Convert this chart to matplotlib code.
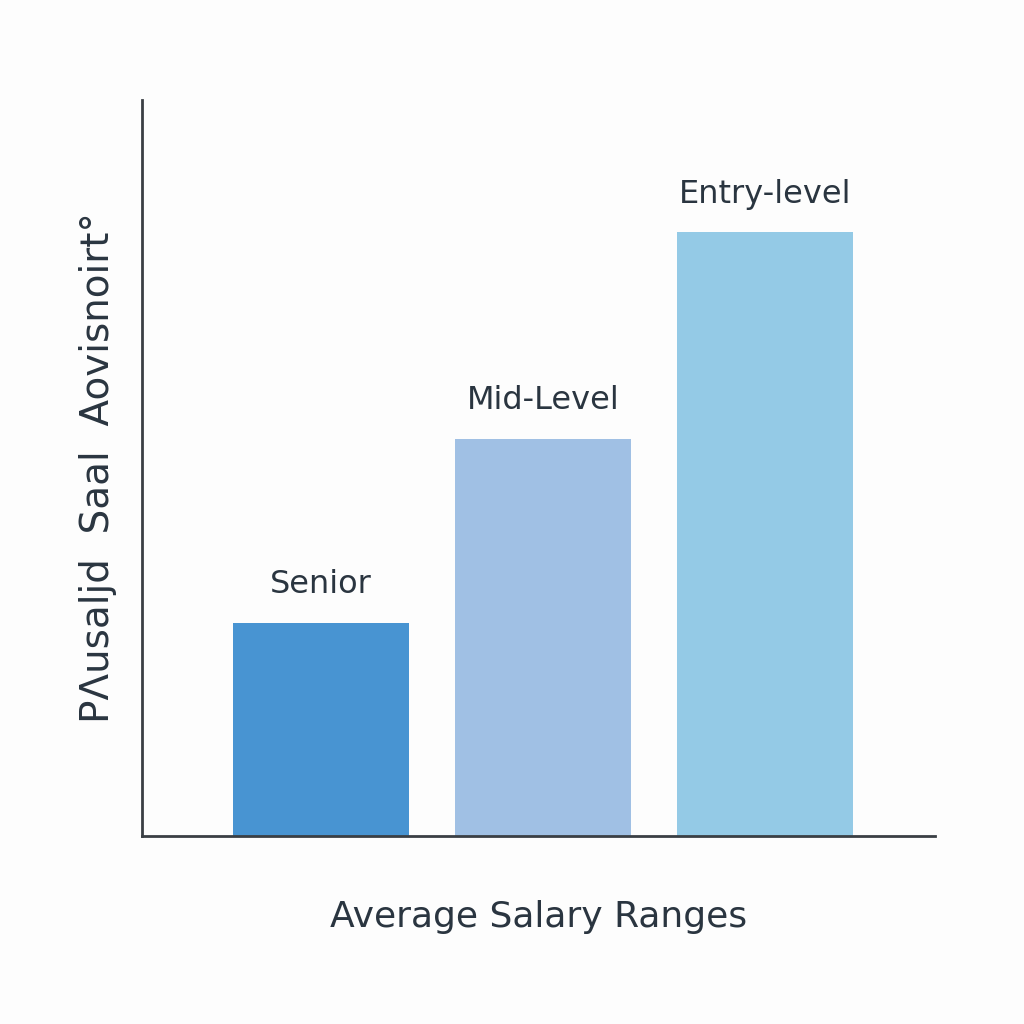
import matplotlib.pyplot as plt

# data
levels = ['Senior', 'Mid-Level', 'Entry-level']
values = [29, 54, 82]
colors = ['#4894d2', '#a0c0e4', '#94cae6']

fig = plt.figure(figsize=(10.24, 10.24), dpi=100, facecolor='#fdfdfd')
ax = fig.add_axes([142/1024, 1 - 836/1024, (935-142)/1024, (836-100)/1024])
ax.set_facecolor('#fdfdfd')

x = range(len(levels))
bars = ax.bar(x, values, width=0.79, color=colors)

# labels over bars
for xi, v, name in zip(x, values, levels):
    ax.text(xi, v + 3, name, ha='center', va='bottom', fontsize=23,
            color='#2a3540')

ax.set_xlim(-0.806, 2.766)
ax.set_ylim(0, 100)
ax.set_xticks([])
ax.set_yticks([])
for s in ['top', 'right']:
    ax.spines[s].set_visible(False)
for s in ['left', 'bottom']:
    ax.spines[s].set_color('#3a3f44')
    ax.spines[s].set_linewidth(2)

ax.set_xlabel('Average Salary Ranges', fontsize=26, color='#2a3540', labelpad=46)
ax.set_ylabel('PΛusaljd  Saal  Aovisnoirt°', fontsize=28, color='#2a3540', labelpad=18)

fig.savefig('out.png', dpi=100, facecolor=fig.get_facecolor())
